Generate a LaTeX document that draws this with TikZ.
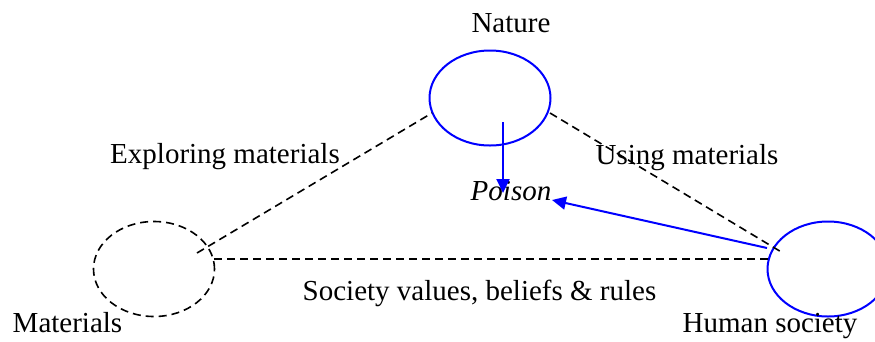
\documentclass[tikz,border=0pt]{standalone}
\usepackage{fontspec}
\setmainfont{Liberation Serif}
\usetikzlibrary{shapes.geometric,arrows.meta,calc}
\begin{document}
\begin{tikzpicture}[x=1pt,y=-1pt,
  lbl/.style={anchor=base,inner sep=0pt,font=\fontsize{29}{34}\selectfont},
  blob/.style={ellipse,minimum width=121pt,minimum height=95pt,inner sep=0pt},
  blueblob/.style={blob,draw=blue,line width=2pt},
  dashblob/.style={blob,draw=black,line width=1.6pt,dash pattern=on 8pt off 5pt},
  dline/.style={draw=black,line width=1.6pt,dash pattern=on 8pt off 5pt},
  barrow/.style={draw=blue,line width=2pt,-{Triangle[length=14pt,width=13pt]}}]
\clip (0,0) rectangle (875,341);
\node[blueblob] (nat) at (490,98) {};
\node[dashblob] (mat) at (154,269) {};
\node[blueblob] (hum) at (828,269) {};
\node[lbl] (natl) at (511,32) {Nature};
\node[lbl] (matl) at (67.5,332) {Materials};
\node[lbl] (huml) at (770,332) {Human society};
\node[lbl] (expl) at (225,163) {Exploring materials};
\node[lbl] (usel) at (687,164) {Using materials};
\node[lbl] (socl) at (479.5,300) {Society values, beliefs \& rules};
\node[lbl,font=\fontsize{29}{34}\selectfont\itshape] (poison) at (511,200) {Poison};
\draw[dline] ($(mat.center)+(43,-16)$) -- ($(nat.center)+(-58,15)$);
\draw[dline] ($(nat.center)+(60,15)$) -- ($(hum.center)+(-45,-16)$);
\draw[dline] ($(mat.center)+(60,-10)$) -- ($(hum.center)+(-60,-10)$);
\draw[barrow] ($(nat.center)+(13,24)$) -- ($(poison.base)+(-8,-7)$);
\draw[barrow] ($(hum.center)+(-61,-21)$) -- ($(poison.base)+(41,0)$);
\end{tikzpicture}
\end{document}
